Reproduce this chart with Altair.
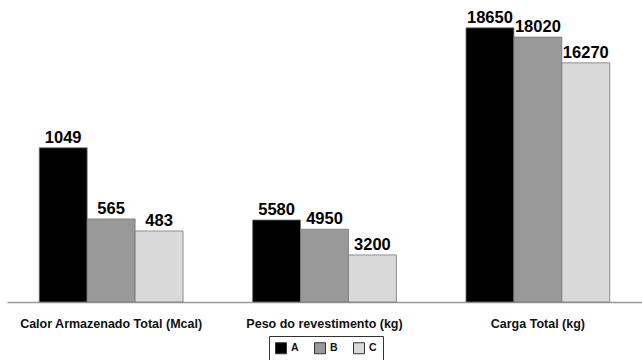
import altair as alt
import pandas as pd

# Categories and series
grupos = ["Calor Armazenado Total (Mcal)", "Peso do revestimento (kg)", "Carga Total (kg)"]
series = ["A", "B", "C"]

# Values per series, in the order of the groups
valores_A = [1049, 5580, 18650]
valores_B = [565, 4950, 18020]
valores_C = [483, 3200, 16270]

# The Mcal group is drawn in tens so it shares the kg axis
fator_escala = [10, 1, 1]

cores = ["#000000", "#999999", "#d9d9d9"]

linhas = []
for serie, vals in zip(series, [valores_A, valores_B, valores_C]):
    for g, v, f in zip(grupos, vals, fator_escala):
        linhas.append({"grupo": g, "serie": serie, "valor": v, "altura": v * f})
df = pd.DataFrame(linhas)

x_enc = alt.X(
    "grupo:N",
    sort=grupos,
    scale=alt.Scale(paddingInner=0.326, paddingOuter=0.151),
    axis=alt.Axis(
        title=None,
        labelAngle=0,
        ticks=False,
        domainColor="#9a9a9a",
        domainWidth=1.5,
        labelFont="Liberation Sans",
        labelFontWeight="bold",
        labelFontSize=12.5,
        labelColor="#111111",
        labelPadding=15,
        labelLimit=0,
    ),
)
y_enc = alt.Y("altura:Q", scale=alt.Scale(domain=[0, 20000], nice=False), axis=None)
off_enc = alt.XOffset("serie:N", sort=series)

barras = alt.Chart(df).mark_bar(stroke="#777777", strokeWidth=0.8).encode(
    x=x_enc,
    xOffset=off_enc,
    y=y_enc,
    color=alt.Color(
        "serie:N",
        sort=series,
        scale=alt.Scale(domain=series, range=cores),
        legend=alt.Legend(
            title=None,
            orient="none",
            legendX=262,
            legendY=328,
            direction="horizontal",
            symbolType="square",
            symbolSize=121,
            symbolStrokeColor="#333333",
            symbolStrokeWidth=1,
            labelFont="Liberation Sans",
            labelFontWeight="bold",
            labelFontSize=10.5,
            labelColor="#111111",
            labelOffset=4,
            columnPadding=13,
            padding=6,
            strokeColor="#333333",
        ),
    ),
)

rotulos = alt.Chart(df).mark_text(
    dy=-5,
    baseline="alphabetic",
    font="Liberation Sans",
    fontWeight="bold",
    fontSize=16.5,
    color="#000000",
).encode(
    x=alt.X("grupo:N", sort=grupos),
    xOffset=off_enc,
    y=alt.Y("altura:Q"),
    text=alt.Text("valor:Q", format="d"),
)

chart = (
    alt.layer(barras, rotulos)
    .properties(
        width=635,
        height=294,
        padding={"left": 7, "top": 8, "right": 0, "bottom": 58},
        autosize=alt.AutoSizeParams(type="none"),
        background="#ffffff",
    )
    .configure_view(stroke=None)
)

chart.save("out.html", embed_options={"renderer": "svg", "actions": False})
